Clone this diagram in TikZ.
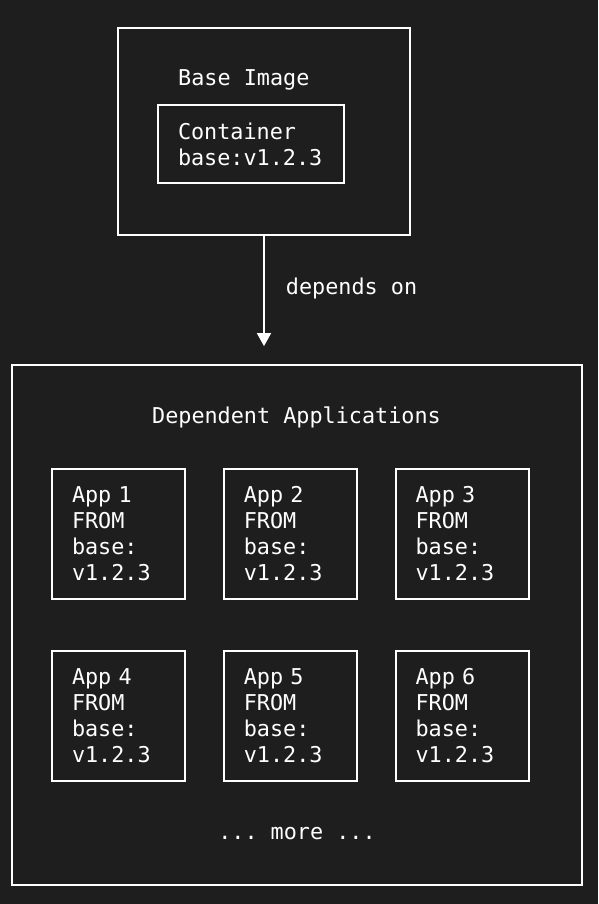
\documentclass[tikz,border=0pt]{standalone}
\usepackage{fontspec}
\setmonofont{DejaVu Sans Mono}
\usepackage{xcolor}
\usepackage{tikz}
\usetikzlibrary{arrows.meta,positioning}
\definecolor{termbg}{HTML}{1E1E1E}

\begin{document}
\begin{tikzpicture}[
    x=1pt, y=-1pt,
    every node/.style={text=white, font=\ttfamily\fontsize{21.8}{26}\selectfont},
    frame/.style={draw=white, line width=1.8pt},
    appbox/.style={frame, minimum width=133pt, minimum height=130pt, inner xsep=20pt,
                text width=93pt, align=left},
    label/.style={inner sep=0pt},
    arr/.style={-{Triangle[width=14pt,length=13pt]}, draw=white, line width=1.8pt}
  ]
    \useasboundingbox[fill=termbg] (0,0) rectangle (598,904);

    % base image
    \node[frame, minimum width=292pt, minimum height=207pt] (base) at (264,131.5) {};
    \node[label, anchor=west] (basetitle) at (178,80) {Base Image};
    \node[frame, minimum width=186pt, minimum height=78pt, inner xsep=20pt,
          text width=146pt, align=left] (container) at (251,144) {Container\\base:v1.2.3};

    % dependent applications
    \node[frame, minimum width=570pt, minimum height=520pt] (deps) at (297,625) {};
    \node[label] (depstitle) at (296.5,417) {Dependent Applications};

    \node[appbox] (app1) at (118.5,534) {App 1\\FROM\\base:\\v1.2.3};
    \node[appbox, right=37pt of app1] (app2) {App 2\\FROM\\base:\\v1.2.3};
    \node[appbox, right=37pt of app2] (app3) {App 3\\FROM\\base:\\v1.2.3};
    \node[appbox, below=50pt of app1] (app4) {App 4\\FROM\\base:\\v1.2.3};
    \node[appbox, right=37pt of app4] (app5) {App 5\\FROM\\base:\\v1.2.3};
    \node[appbox, right=37pt of app5] (app6) {App 6\\FROM\\base:\\v1.2.3};

    \node[label] (more) at (297,834) {... more ...};

    \draw[arr, shorten >=18pt] (base.south) -- node[label, anchor=west, xshift=21pt, yshift=12pt]{depends on} (base.south |- deps.north);
  \end{tikzpicture}
\end{document}
